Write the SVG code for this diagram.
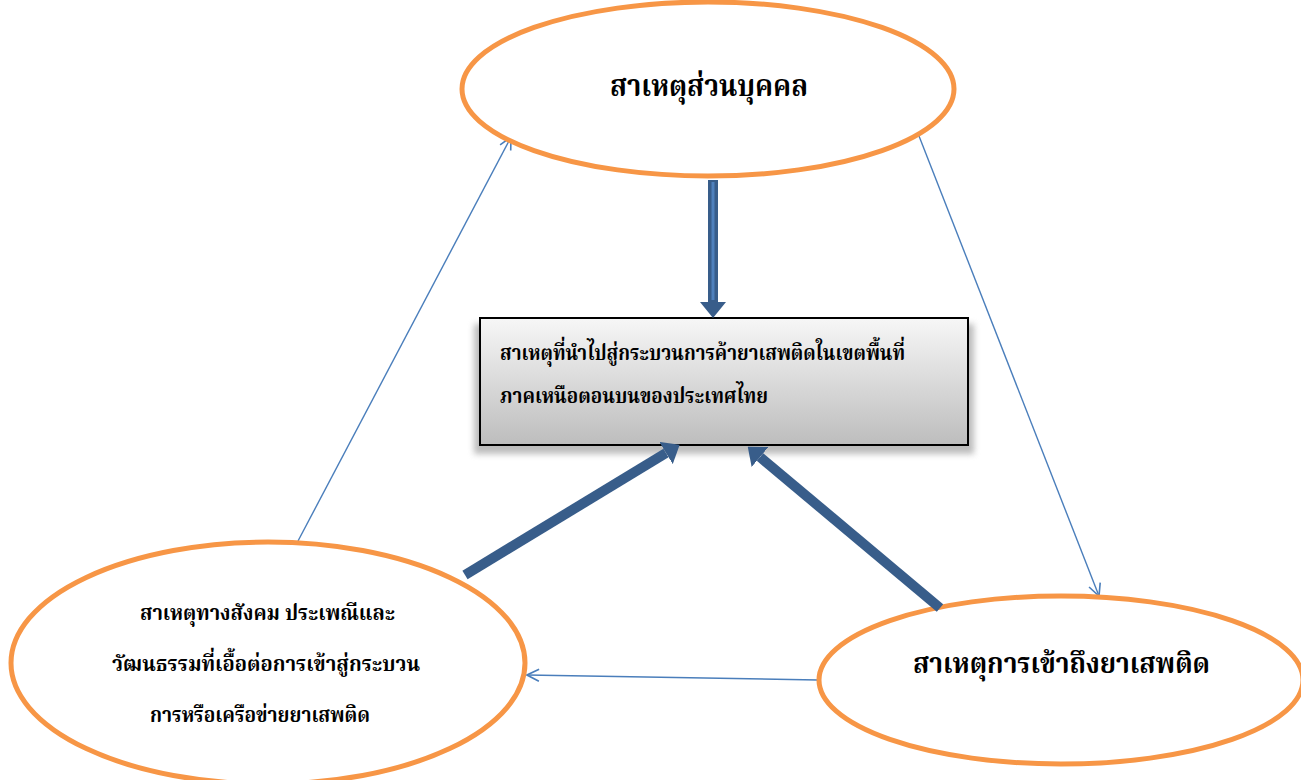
<svg xmlns="http://www.w3.org/2000/svg" width="1301" height="780" viewBox="0 0 1301 780">
<style>
.ell{fill:#fff;stroke:#f79646;stroke-width:5}
.thin{stroke:#4a7ebb;stroke-width:1.4;fill:none;marker-end:url(#open)}
.thick{stroke:#385d8a;stroke-width:10;fill:none;marker-end:url(#solid)}
.t{font-family:"Liberation Serif","Noto Serif Thai","Noto Sans Thai","DejaVu Serif","Noto Sans",serif;font-weight:bold;fill:#000}
</style>
<defs>
<linearGradient id="g" x1="0" y1="0" x2="0" y2="1">
<stop offset="0" stop-color="#f7f7f7"/>
<stop offset="1" stop-color="#bdbdbd"/>
</linearGradient>
<filter id="sh" x="-10%" y="-20%" width="120%" height="140%">
<feGaussianBlur stdDeviation="3"/>
</filter>
<marker id="open" viewBox="0 0 14 14" refX="13" refY="7" markerWidth="14" markerHeight="14" orient="auto" markerUnits="userSpaceOnUse">
<path d="M1,1 L13,7 L1,13" fill="none" stroke="#4a7ebb" stroke-width="1.6"/>
</marker>
<marker id="solid" viewBox="0 0 16 26" refX="0" refY="13" markerWidth="16" markerHeight="26" orient="auto" markerUnits="userSpaceOnUse">
<path d="M0,0 L16,13 L0,26 z" fill="#385d8a"/>
</marker>
</defs>

<g id="connectors">
<line class="thin" x1="298" y1="541" x2="511" y2="137"/>
<line class="thin" x1="919" y1="136" x2="1099" y2="596"/>
<line class="thin" x1="818" y1="680" x2="527" y2="675"/>
</g>

<g id="node-personal">
<ellipse class="ell" cx="708" cy="89" rx="246" ry="87"/>
<text class="t" x="610" y="96" font-size="30" textLength="198" lengthAdjust="spacingAndGlyphs">สาเหตุส่วนบุคคล</text>
</g>

<g id="node-social">
<ellipse class="ell" cx="268" cy="663" rx="257" ry="121"/>
<text class="t" x="140" y="620" font-size="22" textLength="255" lengthAdjust="spacingAndGlyphs">สาเหตุทางสังคม ประเพณีและ</text>
<text class="t" x="112" y="671" font-size="22" textLength="308" lengthAdjust="spacingAndGlyphs">วัฒนธรรมที่เอื้อต่อการเข้าสู่กระบวน</text>
<text class="t" x="150" y="722" font-size="22" textLength="220" lengthAdjust="spacingAndGlyphs">การหรือเครือข่ายยาเสพติด</text>
</g>

<g id="node-access">
<ellipse class="ell" cx="1061" cy="680" rx="242" ry="84"/>
<text class="t" x="913" y="673" font-size="28" textLength="297" lengthAdjust="spacingAndGlyphs">สาเหตุการเข้าถึงยาเสพติด</text>
</g>

<g id="node-center">
<rect x="474" y="324" width="500" height="130" fill="#8f8f8f" opacity="0.6" filter="url(#sh)"/>
<rect x="480" y="318" width="488" height="127" fill="url(#g)" stroke="#000" stroke-width="2"/>
<text class="t" x="500" y="360" font-size="22" textLength="405" lengthAdjust="spacingAndGlyphs">สาเหตุที่นำไปสู่กระบวนการค้ายาเสพติดในเขตพื้นที่</text>
<text class="t" x="500" y="403" font-size="22" textLength="268" lengthAdjust="spacingAndGlyphs">ภาคเหนือตอนบนของประเทศไทย</text>
</g>

<g id="thick-arrows">
<line class="thick" x1="713" y1="180" x2="713" y2="302" stroke-width="12"/>
<line x1="713" y1="182" x2="713" y2="300" stroke="#4f81bd" stroke-width="3"/>
<line class="thick" x1="465" y1="575" x2="666" y2="453"/>
<line class="thick" x1="940" y1="608" x2="760" y2="457"/>
</g>
</svg>
